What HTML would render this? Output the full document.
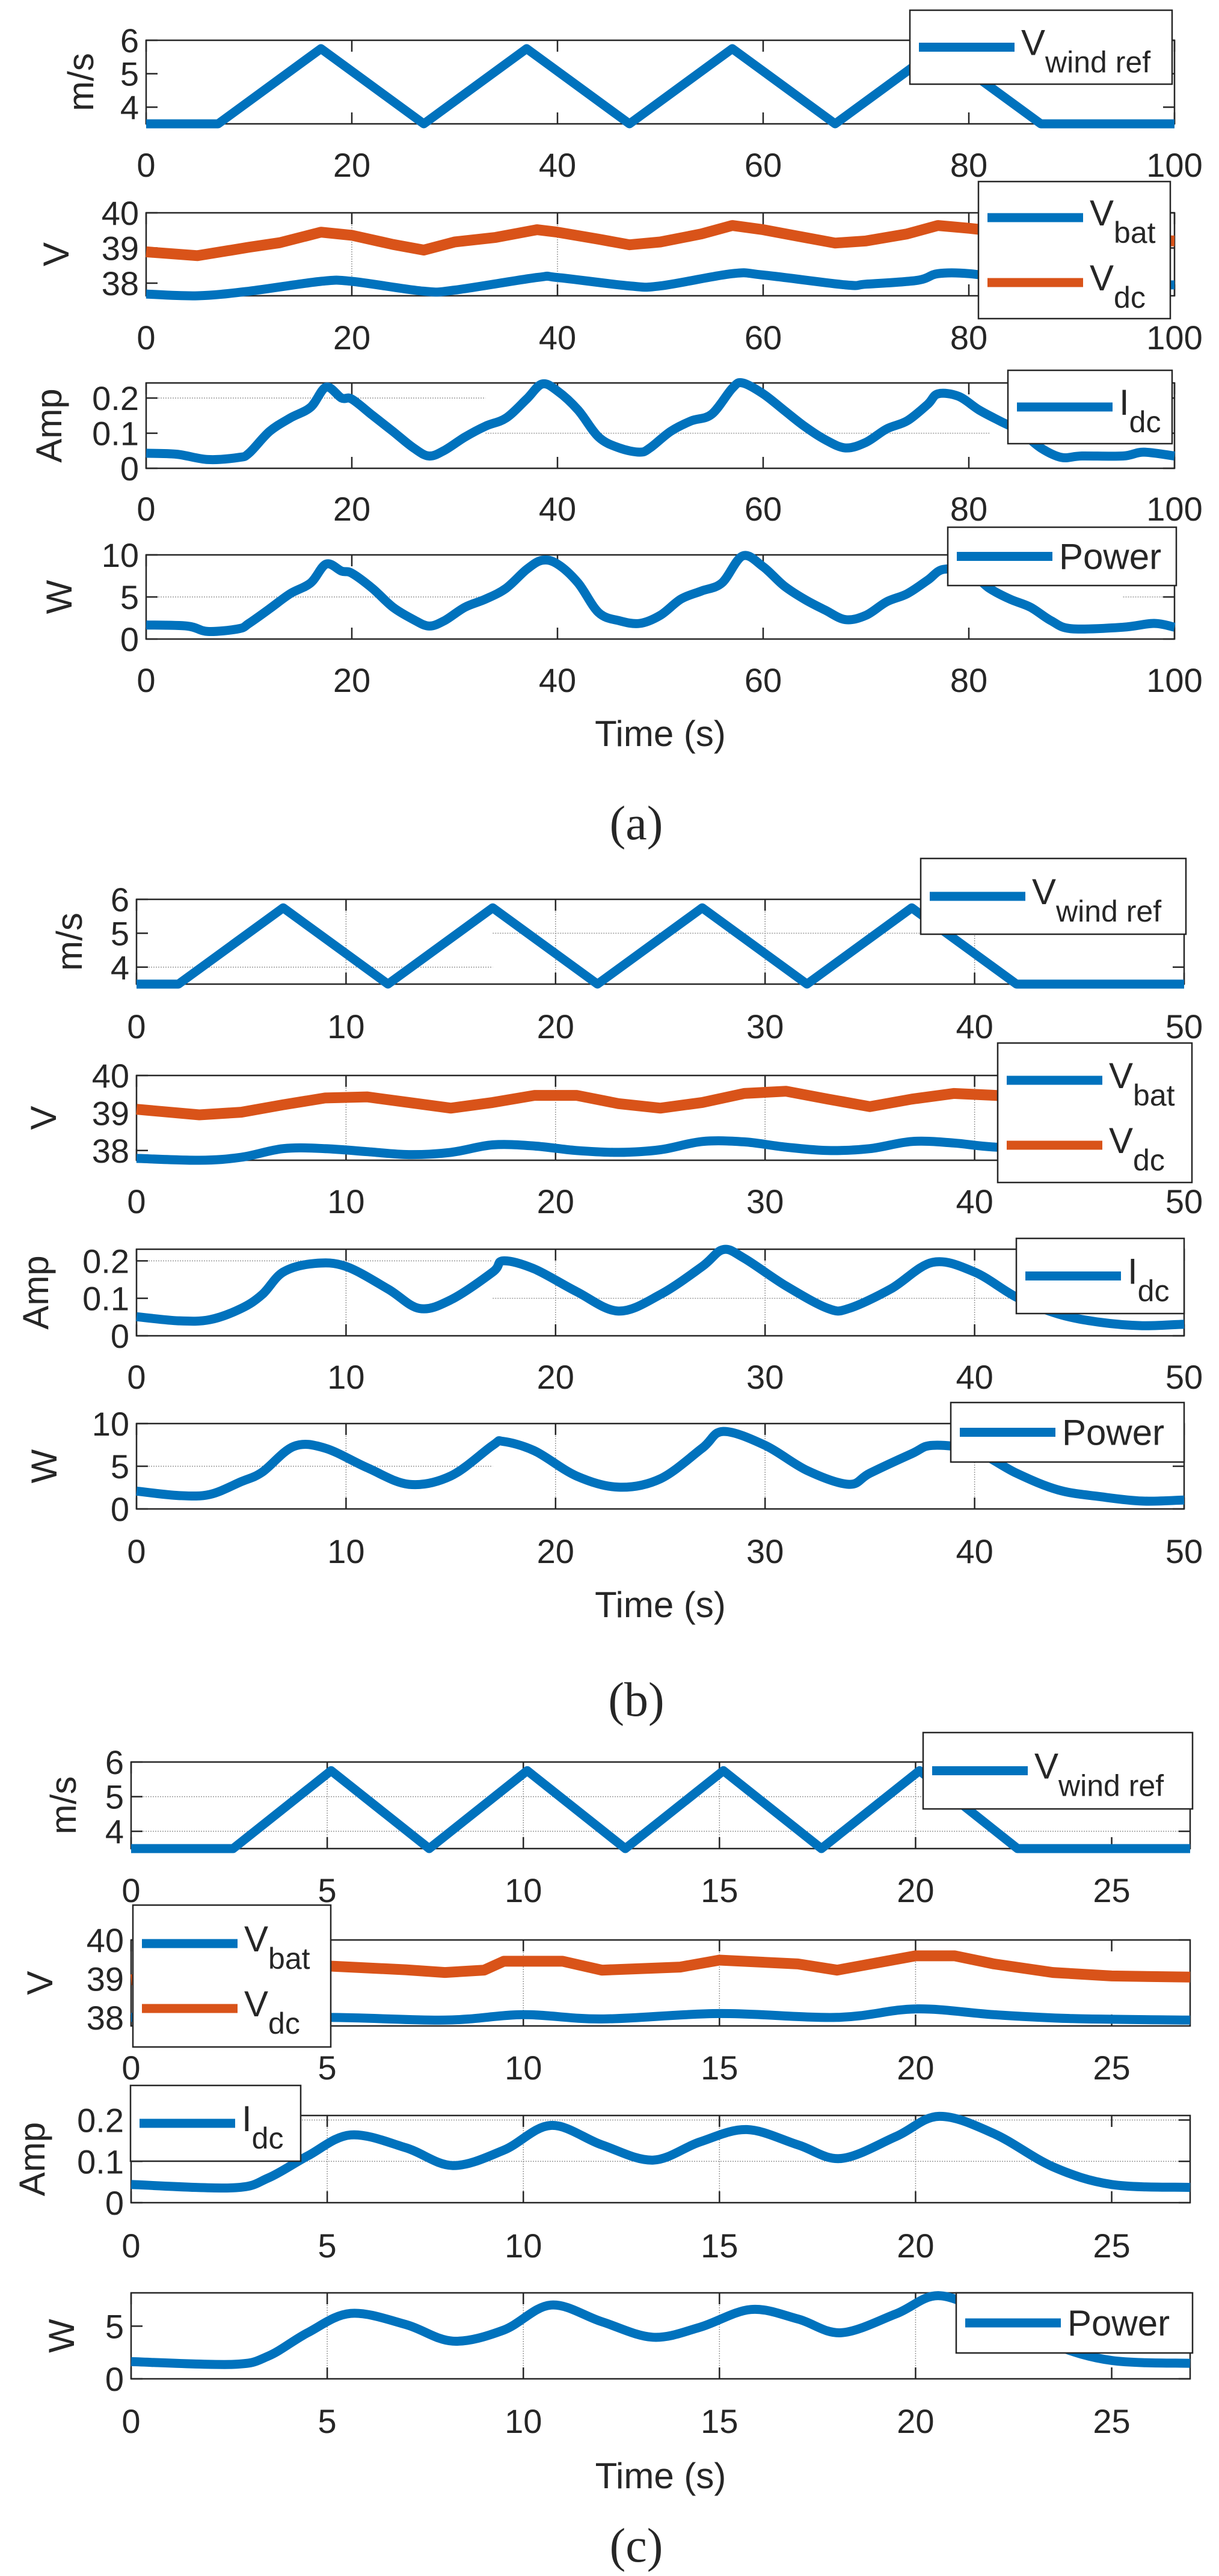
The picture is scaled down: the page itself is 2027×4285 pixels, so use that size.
<!DOCTYPE html>
<html><head><meta charset="utf-8"><title>Wind system responses</title>
<style>html,body{margin:0;padding:0;background:#fff}svg{display:block}text{font-family:"Liberation Sans",Arial,sans-serif;fill:#262626}</style>
</head><body>
<svg id="fig" xmlns="http://www.w3.org/2000/svg" width="2027" height="4285" viewBox="0 0 2027 4285"></svg>
<script>
// ---------- data (a) ----------
const aWindT=[0,7,17,27,37,47,57,67,77,87,100];
const aWind=[3.5,3.5,5.75,3.5,5.75,3.5,5.75,3.5,5.75,3.5,3.5];
const aVT=[0,5,10,17,20,27,30,38,40,47,50,57,60,68,70,75,77,80,85,90,100];
const aVbat=[37.69,37.64,37.77,38.05,38.05,37.77,37.8,38.16,38.16,37.92,37.92,38.27,38.23,37.95,37.97,38.08,38.27,38.27,38.08,37.95,37.95];
const aVdcT=[0,5,10,13,17,20,24,27,30,34,38,40,44,47,50,54,57,60,64,67,70,74,77,80,85,90,100];
const aVdc=[38.89,38.78,39.02,39.15,39.45,39.36,39.1,38.94,39.17,39.3,39.52,39.45,39.25,39.09,39.17,39.4,39.64,39.52,39.3,39.14,39.2,39.4,39.64,39.56,39.4,39.25,39.2];
const aIT=[0,3,6,9,10,12,14,16,17.5,19,20,22,24,26,27.5,29,31,33,35,37,38.5,40,42,44,46,48,49,51,53,55,57,58,60,62,64,66,68,70,72,74,76,77,79,81,83,85,87,89,91,95,97,100];
const aIdc=[.043,.040,.025,.031,.043,.105,.143,.174,.231,.2,.197,.151,.105,.058,.035,.051,.089,.12,.143,.197,.24,.22,.166,.089,.058,.046,.058,.105,.135,.154,.228,.243,.212,.166,.12,.082,.058,.074,.112,.135,.182,.212,.205,.166,.135,.105,.058,.031,.035,.035,.046,.035];
const aPT=[0,4,6,9,10,12,14,16,17.5,19,20,22,24,26,27.5,29,31,33,35,37,38.5,40,42,44,46,48,50,52,54,56,58,60,62,64,66,68,70,72,74,76,77.5,80,82,84,86,88,90,95,98,100];
const aPow=[1.67,1.54,0.9,1.22,1.86,3.59,5.38,6.67,8.91,8.08,7.82,6.03,3.78,2.31,1.54,2.18,3.78,4.74,6.03,8.27,9.36,8.91,6.67,3.14,2.18,1.86,2.82,4.74,5.71,6.67,9.87,8.59,6.35,4.74,3.46,2.31,2.82,4.42,5.38,6.99,8.27,7.95,6.03,4.74,3.78,2.18,1.22,1.41,1.86,1.41];
const aXTicks=[0,20,40,60,80,100];
// ---------- data (b) ----------
const bWindT=[0,2,7,12,17,22,27,32,37,42,50];
const bWind=[3.5,3.5,5.75,3.5,5.75,3.5,5.75,3.5,5.75,3.5,3.5];
const bVT=[0,3,5,7,9,11,13,15,17,19,21,23,25,27,29,31,33,35,37,39,41,45,50];
const bVbat=[37.79,37.74,37.82,38.05,38.05,37.97,37.89,37.95,38.15,38.12,38.0,37.95,38.02,38.24,38.23,38.09,38.0,38.05,38.24,38.2,38.09,38.0,37.97];
const bVdc=[39.1,38.95,39.02,39.22,39.4,39.43,39.28,39.13,39.28,39.47,39.47,39.25,39.13,39.28,39.52,39.58,39.37,39.17,39.37,39.52,39.47,39.25,39.25];
const bIT=[0,2,3.5,5,6,7,8.5,10,12,13.5,15,17,17.5,19,21,23,25,27,28,29,31,33,34,36,38,40,42,44,46,48,50];
const bIdc=[.051,.04,.043,.073,.11,.17,.193,.185,.125,.073,.096,.17,.2,.178,.118,.066,.11,.185,.23,.207,.133,.073,.073,.125,.196,.17,.103,.058,.036,.027,.031];
const bPT=[0,2,3.5,5,6,7.5,9,11,13,15,17,17.5,19,21,23,25,27,28,30,32,34,35,37,38,40,42,44,46,48,50];
const bPow=[2.09,1.57,1.7,3.2,4.31,7.32,7.12,4.84,2.88,3.86,7.45,7.91,6.8,3.86,2.55,3.53,7.12,9.08,7.45,4.51,2.88,4.18,6.47,7.45,6.8,4.18,2.22,1.44,0.92,1.05];
const bXTicks=[0,10,20,30,40,50];
// ---------- data (c) ----------
const cWindT=[0,2.6,5.1,7.6,10.1,12.6,15.1,17.6,20.1,22.6,27];
const cWind=[3.5,3.5,5.75,3.5,5.75,3.5,5.75,3.5,5.75,3.5,3.5];
const cVT=[0,5,8,10,12,15,18,20,22,24,27];
const cVbat=[38.0,38.0,37.93,38.07,37.96,38.1,38.0,38.22,38.07,37.97,37.93];
const cVdcT=[0,2,4,5,7,8,9,9.5,11,12,14,15,17,18,20,21,22,23.5,25,27];
const cVdc=[38.97,39.16,39.28,39.33,39.23,39.16,39.22,39.45,39.45,39.22,39.3,39.48,39.38,39.22,39.59,39.59,39.38,39.16,39.07,39.04];
const cIT=[0,2.6,3.5,4.5,5.6,7,8.2,9.5,10.7,12,13.3,14.5,15.7,17,18.1,19.5,20.6,22,23.5,25,27];
const cIdc=[.044,.036,.06,.113,.164,.133,.09,.127,.187,.14,.103,.147,.177,.14,.107,.16,.209,.167,.087,.044,.037];
const cPT=[0,2.6,3.5,4.5,5.6,7,8.2,9.5,10.7,12,13.3,14.5,15.8,17,18.1,19.5,20.6,22,23.5,25,27];
const cPow=[1.63,1.37,2.16,4.37,6.21,5.16,3.58,4.63,7.0,5.42,3.95,4.89,6.58,5.68,4.37,6.16,7.89,5.89,3.26,1.74,1.47];
const cXTicks=[0,5,10,15,20,25];

const NS='http://www.w3.org/2000/svg';
const svg=document.getElementById('fig');
const BLUE='#0072BD',ORANGE='#D95319',INK='#262626';
function mk(tag,attrs,parent){const e=document.createElementNS(NS,tag);for(const k in attrs)e.setAttribute(k,attrs[k]);(parent||svg).appendChild(e);return e;}
function scaleX(ax,v){return ax.x0+(v-ax.xmin)/(ax.xmax-ax.xmin)*(ax.x1-ax.x0);}
function scaleY(ax,v){return ax.y1-(v-ax.ymin)/(ax.ymax-ax.ymin)*(ax.y1-ax.y0);}
function smoothPath(pts){let d='M'+pts[0][0].toFixed(1)+','+pts[0][1].toFixed(1);
 for(let i=0;i<pts.length-1;i++){const p0=pts[Math.max(0,i-1)],p1=pts[i],p2=pts[i+1],p3=pts[Math.min(pts.length-1,i+2)];
  const c1=[p1[0]+(p2[0]-p0[0])/6,p1[1]+(p2[1]-p0[1])/6],c2=[p2[0]-(p3[0]-p1[0])/6,p2[1]-(p3[1]-p1[1])/6];
  d+=' C'+c1[0].toFixed(1)+','+c1[1].toFixed(1)+' '+c2[0].toFixed(1)+','+c2[1].toFixed(1)+' '+p2[0].toFixed(1)+','+p2[1].toFixed(1);}
 return d;}
function drawAxes(ax,g){
 for(const gl of (ax.grid||[])){
  const ln=gl.dir==='h'?mk('line',{x1:scaleX(ax,gl.a),x2:scaleX(ax,gl.b),y1:scaleY(ax,gl.v),y2:scaleY(ax,gl.v),stroke:'#9a9a9a','stroke-width':1.5,'stroke-dasharray':'2,2'},g)
   :mk('line',{x1:scaleX(ax,gl.v),x2:scaleX(ax,gl.v),y1:ax.y0,y2:ax.y1,stroke:'#9a9a9a','stroke-width':1.5,'stroke-dasharray':'2,2'},g);
  
  
 }
 const fr=mk('rect',{x:ax.x0,y:ax.y0,width:ax.x1-ax.x0,height:ax.y1-ax.y0,fill:'none',stroke:INK,'stroke-width':2.5},g);
 
 
 for(const t of ax.xticks){const x=scaleX(ax,t);
  mk('line',{x1:x,x2:x,y1:ax.y1,y2:ax.y1-19,stroke:INK,'stroke-width':2.5},g);
  mk('line',{x1:x,x2:x,y1:ax.y0,y2:ax.y0+19,stroke:INK,'stroke-width':2.5},g);
  const tx=mk('text',{x:x,y:ax.labY+20,'text-anchor':'middle','font-size':56},g);tx.textContent=t;
  
  
 }
 for(const t of ax.yticks){const y=scaleY(ax,t);
  mk('line',{x1:ax.x0,x2:ax.x0+19,y1:y,y2:y,stroke:INK,'stroke-width':2.5},g);
  mk('line',{x1:ax.x1,x2:ax.x1-19,y1:y,y2:y,stroke:INK,'stroke-width':2.5},g);
  const tx=mk('text',{x:ax.x0-12,y:y+20,'text-anchor':'end','font-size':56},g);tx.textContent=t;
  
  
 }
 const cy=(ax.y0+ax.y1)/2;
 const yl=mk('text',{x:ax.ylx,y:cy,'text-anchor':'middle','font-size':60,transform:'rotate(-90 '+ax.ylx+' '+cy+')'},g);yl.textContent=ax.ylabel;
 
 
}
function drawSeries(ax,ts,vs,color,smooth,g,name,w){
 const pts=ts.map((t,i)=>[scaleX(ax,t),scaleY(ax,vs[i])]);
 const d=smooth?smoothPath(pts):'M'+pts.map(p=>p[0].toFixed(1)+','+p[1].toFixed(1)).join(' L');
 const p=mk('path',{d:d,fill:'none',stroke:color,'stroke-width':w||15,'stroke-linejoin':'round','stroke-linecap':'butt'},g);
 
 
}
function drawLegend(box,entries,g){
 const lg=mk('g',{},g);
 
 
 mk('rect',{x:box[0],y:box[1],width:box[2]-box[0],height:box[3]-box[1],fill:'#fff',stroke:INK,'stroke-width':2.5},lg);
 const n=entries.length,cy=(box[1]+box[3])/2;
 entries.forEach((e,i)=>{const ly=n===1?cy:cy+(i-0.5)*108;const lx=box[0]+15;
  const ln=mk('line',{x1:lx,x2:lx+159,y1:ly,y2:ly,stroke:e.color,'stroke-width':15},lg);
  
  
  const tx=mk('text',{x:lx+170,y:ly+(e.sub?13:21),'font-size':60,fill:'#000'},lg);
  
  
  const m=mk('tspan',{},tx);m.textContent=e.main;
  if(e.sub){const s=mk('tspan',{dy:29,'font-size':50},tx);s.textContent=e.sub;}
 });
}
function panel(cfg){
 const g=mk('g',{});
 
 
 drawAxes(cfg.ax,g);
 cfg.series.forEach(s=>drawSeries(cfg.ax,s.t,s.v,s.color,s.smooth,g,s.name,s.w));
 drawLegend(cfg.legend,cfg.entries,g);
}
function figure(id,X0,X1,tmax,xt,rows,ylx,windT,wind,vbT,vbat,vdT,vdc,iT,idc,pT,pw,leg,ylims,grids,timeY,capY,capText){
 const base={x0:X0,x1:X1,xmin:0,xmax:tmax,xticks:xt};
 panel({name:id+'-wind-subplot',ax:Object.assign({},base,{y0:rows[0][0],y1:rows[0][1],labY:rows[0][2],ymin:3.5,ymax:6,yticks:[4,5,6],ylabel:'m/s',ylx:ylx[0],grid:grids[0]}),
  series:[{t:windT,v:wind,color:BLUE,smooth:false,name:'wind-speed-line'}],legend:leg[0],entries:[{color:BLUE,main:'V',sub:'wind ref'}]});
 panel({name:id+'-voltage-subplot',ax:Object.assign({},base,{y0:rows[1][0],y1:rows[1][1],labY:rows[1][2],ymin:ylims[0],ymax:40,yticks:[38,39,40],ylabel:'V',ylx:ylx[1],grid:grids[1]}),
  series:[{t:vbT,v:vbat,color:BLUE,smooth:true,name:'vbat-line'},{t:vdT,v:vdc,color:ORANGE,smooth:false,name:'vdc-line',w:18}],legend:leg[1],entries:[{color:BLUE,main:'V',sub:'bat'},{color:ORANGE,main:'V',sub:'dc'}]});
 panel({name:id+'-current-subplot',ax:Object.assign({},base,{y0:rows[2][0],y1:rows[2][1],labY:rows[2][2],ymin:0,ymax:ylims[1],yticks:[0,0.1,0.2],ylabel:'Amp',ylx:ylx[2],grid:grids[2]}),
  series:[{t:iT,v:idc,color:BLUE,smooth:true,name:'idc-line'}],legend:leg[2],entries:[{color:BLUE,main:'I',sub:'dc'}]});
 panel({name:id+'-power-subplot',ax:Object.assign({},base,{y0:rows[3][0],y1:rows[3][1],labY:rows[3][2],ymin:0,ymax:ylims[2],yticks:ylims[3],ylabel:'W',ylx:ylx[3],grid:grids[3]}),
  series:[{t:pT,v:pw,color:BLUE,smooth:true,name:'power-line'}],legend:leg[3],entries:[{color:BLUE,main:'Power'}]});
 const tl=mk('text',{x:(X0+X1)/2,y:timeY+21,'text-anchor':'middle','font-size':60});tl.textContent='Time (s)';
 
 
 const cp=mk('text',{x:1058,y:capY+27,'text-anchor':'middle','font-size':80,style:'font-family:"Liberation Serif",serif',fill:'#000'});cp.textContent=capText;
 
 
}
figure('panel-a',243,1953,100,aXTicks,[[67,206,274],[354,492,561],[637,779,846],[923,1063,1131]],[155,114,102,119],
 aWindT,aWind,aVT,aVbat,aVdcT,aVdc,aIT,aIdc,aPT,aPow,
 [[1513,17,1949,140],[1627,302,1946,530],[1676,616,1949,738],[1576,877,1956,974]],[37.64,0.243,10,[0,5,10]],
 [[],[{dir:'v',v:20},{dir:'v',v:40}],[{dir:'h',v:0.2,a:0,b:33},{dir:'h',v:0.1,a:33,b:82}],[{dir:'h',v:5,a:0,b:33},{dir:'h',v:5,a:95,b:100}]],1220,1369,'(a)');
figure('panel-b',227,1969,50,bXTicks,[[1496,1637,1707],[1789,1930,1998],[2078,2222,2290],[2368,2510,2580]],[136,93,80,94],
 bWindT,bWind,bVT,bVbat,bVT,bVdc,bIT,bIdc,bPT,bPow,
 [[1531,1428,1972,1554],[1659,1735,1982,1967],[1690,2060,1969,2185],[1581,2333,1969,2432]],[37.74,0.231,10,[0,5,10]],
 [[{dir:'v',v:10},{dir:'v',v:20},{dir:'v',v:30},{dir:'v',v:40},{dir:'h',v:4,a:0,b:17},{dir:'h',v:5,a:17,b:50}],[{dir:'v',v:10},{dir:'v',v:20},{dir:'v',v:30},{dir:'v',v:40}],[{dir:'v',v:10},{dir:'v',v:20},{dir:'v',v:30},{dir:'v',v:40},{dir:'h',v:0.2,a:0,b:17},{dir:'h',v:0.1,a:17,b:50}],[{dir:'v',v:10},{dir:'v',v:20},{dir:'v',v:30},{dir:'v',v:40},{dir:'h',v:5,a:0,b:17}]],2669,2827,'(b)');
figure('panel-c',218,1979,27,cXTicks,[[2931,3075,3144],[3227,3370,3439],[3519,3664,3735],[3814,3957,4027]],[126,87,74,123],
 cWindT,cWind,cVT,cVbat,cVdcT,cVdc,cIT,cIdc,cPT,cPow,
 [[1535,2882,1983,3009],[221,3169,550,3405],[217,3469,500,3595],[1590,3814,1983,3914]],[37.78,0.211,8.16,[0,5]],
 [[{dir:'v',v:5},{dir:'v',v:10},{dir:'v',v:15},{dir:'v',v:20},{dir:'h',v:5,a:0,b:27},{dir:'h',v:4,a:0,b:27}],[{dir:'v',v:5},{dir:'v',v:10},{dir:'v',v:15},{dir:'v',v:20}],[{dir:'v',v:5},{dir:'v',v:10},{dir:'v',v:15},{dir:'v',v:20},{dir:'h',v:0.1,a:0,b:27},{dir:'h',v:0.2,a:0,b:27}],[{dir:'v',v:5},{dir:'v',v:10},{dir:'v',v:15},{dir:'v',v:20}]],4118,4234,'(c)');
</script>
</body></html>
